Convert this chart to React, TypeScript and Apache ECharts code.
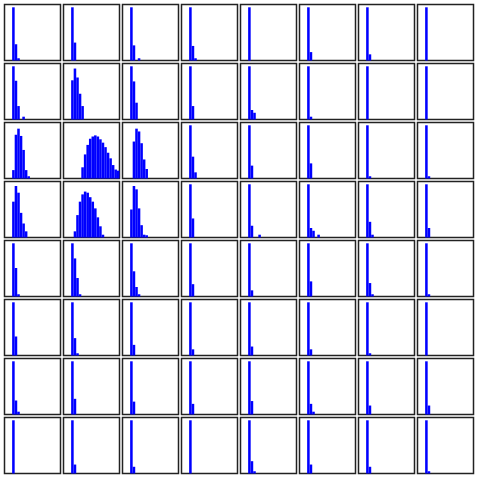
import React, { useEffect, useRef } from "react";
import * as echarts from "echarts";

// 22 histogram bins shared by every panel (x axis)
const binLabels = [
  "0", "1", "2", "3", "4", "5", "6", "7", "8", "9", "10",
  "11", "12", "13", "14", "15", "16", "17", "18", "19", "20", "21",
];

// Bar heights as percent of each panel's y range, starting at the given bin.
const row0Start = [3, 3, 3, 3, 3, 3, 3, 3];
const row0Heights = [[95, 29, 4], [95, 32], [95, 27, 0, 4], [95, 26, 4], [95], [95, 15], [95, 11], [95]];

const row1Start = [3, 3, 3, 3, 3, 3, 3, 3];
const row1Heights = [[95, 69, 24, 0, 5], [70, 91, 75, 46, 24], [95, 68, 30], [95, 24], [95, 17, 12], [95, 5], [95], [95]];

const row2Start = [3, 7, 4, 3, 3, 3, 3, 3];
const row2Heights = [
  [15, 78, 89, 76, 51, 15, 4],
  [20, 43, 60, 71, 75, 77, 75, 70, 64, 56, 46, 36, 24, 16, 14],
  [66, 89, 84, 63, 34, 17],
  [95, 39, 11], [95, 23], [95, 27], [95, 4], [95, 4],
];

const row3Start = [3, 4, 3, 3, 3, 3, 3, 3];
const row3Heights = [
  [64, 92, 80, 44, 25, 11],
  [11, 40, 64, 77, 82, 80, 72, 64, 52, 36, 20, 5],
  [50, 92, 86, 52, 22, 5, 4],
  [95, 34], [95, 21, 0, 0, 5], [95, 17, 12, 0, 5], [95, 28, 5], [95, 17],
];

const row4Start = [3, 3, 3, 3, 3, 3, 3, 3];
const row4Heights = [[95, 51, 4], [95, 68, 33, 4], [95, 45, 17, 4], [95, 22], [95, 11], [95, 27], [95, 24, 4], [95, 4]];

const row5Start = [3, 3, 3, 3, 3, 3, 3, 3];
const row5Heights = [[95, 34], [95, 31, 4], [95, 19], [95, 11], [95, 16], [95, 11], [95, 4], [95]];

const row6Start = [3, 3, 3, 3, 3, 3, 3, 3];
const row6Heights = [[95, 25, 5], [95, 28], [95, 23], [95, 19], [95, 24], [95, 19, 5], [95, 16], [95, 16]];

const row7Start = [3, 3, 3, 3, 3, 3, 3, 3];
const row7Heights = [[95], [95, 16], [95, 12], [95], [95, 22, 4], [95, 16], [95, 12], [95, 4]];

const rowStarts = [row0Start, row1Start, row2Start, row3Start, row4Start, row5Start, row6Start, row7Start];
const rowHeights = [row0Heights, row1Heights, row2Heights, row3Heights, row4Heights, row5Heights, row6Heights, row7Heights];

export default function App() {
  const ref = useRef<HTMLDivElement>(null);
  useEffect(() => {
    if (!ref.current) return;
    const chart = echarts.init(ref.current, null, { renderer: "svg" });
    const grid: any[] = [];
    const xAxis: any[] = [];
    const yAxis: any[] = [];
    const series: any[] = [];
    for (let r = 0; r < 8; r++) {
      for (let c = 0; c < 8; c++) {
        const i = r * 8 + c;
        grid.push({
          left: 4.5 + 59 * c,
          top: 4.5 + 59 * r,
          width: 56,
          height: 56,
          show: true,
          backgroundColor: "#fff",
          borderColor: "#222",
          borderWidth: 1.5,
        });
        xAxis.push({ type: "category", gridIndex: i, data: binLabels, show: false, boundaryGap: true });
        yAxis.push({ type: "value", gridIndex: i, min: 0, max: 100, show: false });
        const start = rowStarts[r][c];
        const hs = rowHeights[r][c];
        const data = binLabels.map((_, k) => {
          const v = hs[k - start];
          return k >= start && v ? v : "-";
        });
        series.push({
          type: "bar",
          xAxisIndex: i,
          yAxisIndex: i,
          data,
          barWidth: "100%",
          silent: true,
          itemStyle: { color: "#0000ff" },
        });
      }
    }
    chart.setOption({ animation: false, backgroundColor: "#fff", grid, xAxis, yAxis, series });
    return () => chart.dispose();
  }, []);
  return <div ref={ref} style={{ position: "absolute", left: 0, top: 0, width: 478, height: 478 }} />;
}
